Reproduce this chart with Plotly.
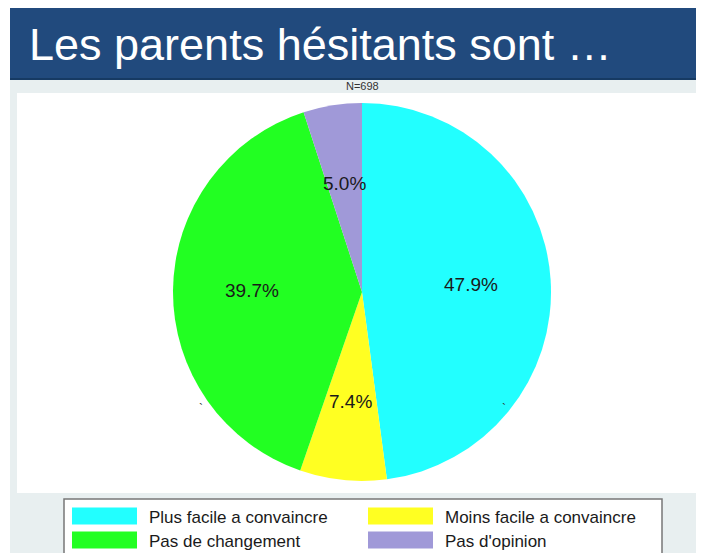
import math
import plotly.graph_objects as go

# page is 704x553; the html body has an 8px margin, so the figure is 696x545
PAGE_W, PAGE_H = 704, 553
OFF = 8
FW, FH = PAGE_W - OFF, PAGE_H - OFF

labels = ["Plus facile a convaincre", "Moins facile a convaincre", "Pas de changement", "Pas d'opinion"]
values = [47.9, 7.4, 39.7, 5.0]
colors = ["#22ffff", "#ffff22", "#22ff22", "#a099d8"]
title_text = "Les parents hésitants sont …"
note_text = "N=698"


def px(x):
    return (x - OFF) / FW


def py(y):
    return 1 - (y - OFF) / FH


fig = go.Figure()

cx, cy, r = 362, 292, 189
fig.add_trace(go.Pie(
    labels=labels,
    values=values,
    marker=dict(colors=colors, line=dict(width=0)),
    sort=False,
    direction="clockwise",
    rotation=0,
    textinfo="none",
    showlegend=False,
    hoverinfo="label+percent",
    domain=dict(x=[px(cx - r), px(cx + r)], y=[py(cy + r), py(cy - r)]),
))

shapes = [
    # light background
    dict(type="rect", xref="paper", yref="paper", x0=px(10), x1=px(704), y0=py(553), y1=py(80),
         fillcolor="#e8eff0", line=dict(width=0), layer="below"),
    # banner
    dict(type="rect", xref="paper", yref="paper", x0=px(10), x1=px(704), y0=py(79), y1=py(8),
         fillcolor="#214a7d", line=dict(width=0), layer="below"),
    dict(type="line", xref="paper", yref="paper", x0=px(10), x1=px(704), y0=py(79), y1=py(79),
         line=dict(color="#163a63", width=2), layer="below"),
    # white panel
    dict(type="rect", xref="paper", yref="paper", x0=px(17), x1=px(700), y0=py(493), y1=py(93),
         fillcolor="#ffffff", line=dict(width=0), layer="below"),
    # legend box
    dict(type="rect", xref="paper", yref="paper", x0=px(64), x1=px(662), y0=py(560), y1=py(499),
         fillcolor="#ffffff", line=dict(color="#777777", width=1.5), layer="below"),
]

annotations = [
    dict(text=title_text, xref="paper", yref="paper", x=px(27), y=py(44), xanchor="left", yanchor="middle",
         showarrow=False, font=dict(family="Liberation Sans, Arial", size=45, color="#ffffff")),
    dict(text=note_text, xref="paper", yref="paper", x=px(362), y=py(86), xanchor="center", yanchor="middle",
         showarrow=False, font=dict(family="Liberation Sans, Arial", size=11, color="#333333")),
    dict(text="`", xref="paper", yref="paper", x=px(197), y=py(418), showarrow=False,
         font=dict(family="Liberation Sans, Arial", size=12, color="#333333")),
    dict(text="`", xref="paper", yref="paper", x=px(508), y=py(418), showarrow=False,
         font=dict(family="Liberation Sans, Arial", size=12, color="#333333")),
]

# slice labels: placed at a fixed fraction of the radius along each slice's mid-angle
total = sum(values)
label_frac = 0.58
cum = 0.0
for v in values:
    mid = (cum + v / 2) / total * 2 * math.pi  # clockwise from 12 o'clock
    cum += v
    lx = cx + label_frac * r * math.sin(mid)
    ly = cy - label_frac * r * math.cos(mid)
    annotations.append(dict(text=f"{v:.1f}%", xref="paper", yref="paper", x=px(lx), y=py(ly),
                            xanchor="center", yanchor="middle", showarrow=False,
                            font=dict(family="Liberation Sans, Arial", size=19, color="#1a1a1a")))

# custom legend (2 columns)
col_x = [72, 368]
row_y = [516, 540]
for i, (lab, col) in enumerate(zip(labels, colors)):
    c = [0, 1, 0, 1][i]
    rr = [0, 0, 1, 1][i]
    x0 = col_x[c]
    yc = row_y[rr]
    shapes.append(dict(type="rect", xref="paper", yref="paper", x0=px(x0), x1=px(x0 + 65),
                       y0=py(yc + 8.5), y1=py(yc - 8.5), fillcolor=col, line=dict(width=0)))
    annotations.append(dict(text=lab, xref="paper", yref="paper", x=px(x0 + 75), y=py(yc + 1),
                            xanchor="left", yanchor="middle", showarrow=False,
                            font=dict(family="Liberation Sans, Arial", size=17, color="#1a1a1a")))

fig.update_layout(
    width=FW, height=FH,
    margin=dict(l=0, r=0, t=0, b=0),
    paper_bgcolor="#ffffff",
    plot_bgcolor="#ffffff",
    shapes=shapes,
    annotations=annotations,
)

fig.write_html("out.html")
